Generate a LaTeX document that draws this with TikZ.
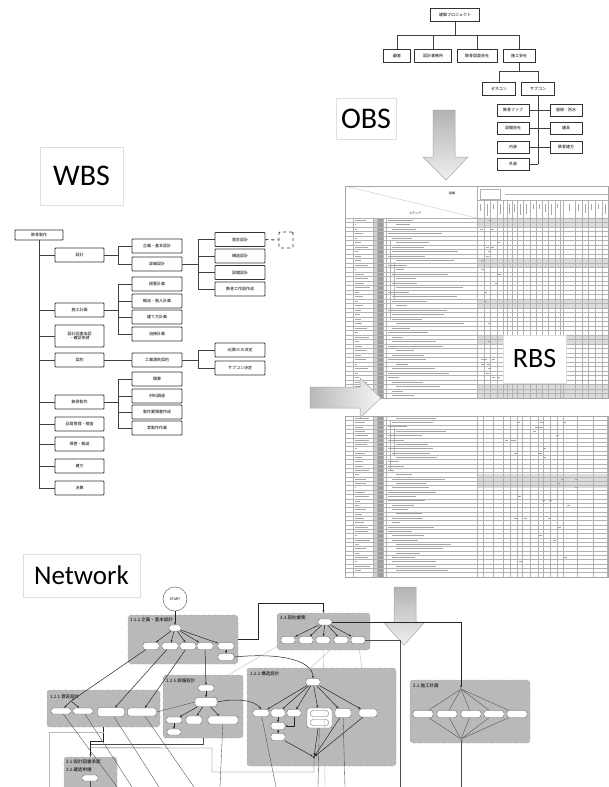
\documentclass[tikz,border=0pt]{standalone}
\usepackage{fontspec}
\setmainfont{Noto Sans CJK JP}
\newfontfamily\titlefont{Carlito}
\usetikzlibrary{arrows.meta, positioning, calc}

\newcommand{\jpsmall}{\fontsize{4}{4.8}\selectfont}
\newcommand{\jptiny}{\fontsize{3}{3.5}\selectfont}

\begin{document}
\begin{tikzpicture}[x=1pt, y=-1pt,
  wbox/.style={draw=black!80, line width=0.9pt, rounded corners=0.8pt, fill=white,
    minimum width=49pt, minimum height=14pt, inner sep=0pt, font=\jpsmall, align=center},
  obox/.style={draw=black!80, line width=0.8pt, fill=white, minimum height=13pt,
    inner sep=1pt, font=\jpsmall},
  tline/.style={draw=black!75, line width=1pt},
  titlebox/.style={draw=gray!25, fill=white, inner sep=0pt, font=\titlefont},
  bigarrow/.style={top color=gray!60, bottom color=gray!12, draw=gray!70, line width=0.5pt},
  grp/.style={draw=gray!75, dashed, line width=0.4pt, fill=gray!55, rounded corners=3pt, inner sep=0pt},
  nd/.style={draw=black!60, fill=white, rounded corners=2.5pt, minimum width=16pt,
    minimum height=7pt, inner sep=0pt, line width=0.4pt},
  joint/.style={circle, fill=black, inner sep=0pt, minimum size=2pt},
  grplabel/.style={font=\fontsize{4.5}{5}\selectfont, anchor=west, inner sep=0pt},
  link/.style={draw=black!85, line width=0.5pt, -{Stealth[length=2.5pt,width=2pt]}},
  thinlink/.style={draw=black!70, line width=0.35pt},
  faint/.style={draw=gray!55, line width=0.35pt},
  rline/.style={draw=gray!60, line width=0.25pt},
  scrib/.style={draw=gray!70, line width=0.9pt},
]
\useasboundingbox (0,0) rectangle (608,787);
\fill[white] (0,0) rectangle (608,787);
\pgfmathsetseed{42}

% ---------- OBS ----------
\node[obox, minimum width=49pt] (proj) at (455,15) {建築プロジェクト};
\node[obox, minimum width=27pt] (kokyaku) at (397,56) {顧客};
\node[obox, minimum width=37pt] (jimusho) at (433,56) {設計事務所};
\node[obox, minimum width=40pt] (zumen) at (477,56) {鉄骨図面会社};
\node[obox, minimum width=32pt] (sekou) at (519,56) {施工会社};
\foreach \c in {kokyaku, jimusho, zumen, sekou}
  \draw[tline] (proj.south) -- ++(0,14) -| (\c.north);

\node[obox, minimum width=33pt] (gene) at (499,89) {ゼネコン};
\node[obox, minimum width=33pt] (sub) at (538,89) {サブコン};
\foreach \c in {gene, sub}
  \draw[tline] (sekou.south) -- ++(0,9) -| (\c.north);

\node[obox, minimum width=32pt, minimum height=12pt] (fab) at (513,110) {鉄骨ファブ};
\node[obox, minimum width=32pt, minimum height=12pt] (setsubi) at (513,128) {設備会社};
\node[obox, minimum width=32pt, minimum height=12pt] (naisou) at (513,147) {内装};
\node[obox, minimum width=32pt, minimum height=12pt] (gaisou) at (513,164) {外装};
\node[obox, minimum width=32pt, minimum height=12pt] (yane) at (566,110) {屋根・防水};
\node[obox, minimum width=32pt, minimum height=12pt] (tategu) at (566,128) {建具};
\node[obox, minimum width=32pt, minimum height=12pt] (tatekata) at (566,147) {鉄骨建方};
\draw[tline] (sub.south) -- (sub.south |- gaisou.east);
\foreach \c in {fab, setsubi, naisou, gaisou}
  \draw[tline] (\c.east) -- (\c.east -| sub.south);
\foreach \c in {yane, tategu, tatekata}
  \draw[tline] (\c.west) -- (\c.west -| sub.south);

\node[titlebox, minimum width=60pt, minimum height=41pt] (obs) at (366,118.5) {\fontsize{30}{32}\selectfont OBS};
\shade[bigarrow] (433,110) -- (455,110) -- (455,157) -- (468,157) -- (446,180) -- (423,157) -- (433,157) -- cycle;

% ---------- WBS ----------
\node[titlebox, minimum width=83pt, minimum height=58pt] (wbs) at (81.5,176) {\fontsize{30}{32}\selectfont WBS};

\node[wbox, minimum width=48pt, minimum height=10pt] (root) at (39,235) {鉄骨製作};
\node[wbox] (w1) at (79.5,255) {設計};
\node[wbox] (w2) at (79.5,310) {施工計画};
\node[wbox, minimum height=22pt] (w3) at (79.5,336) {設計図書承認\\・確認申請};
\node[wbox] (w4) at (79.5,360) {契約};
\node[wbox] (w5) at (79.5,402) {鉄骨製作};
\node[wbox] (w6) at (79.5,424) {品質管理・検査};
\node[wbox] (w7) at (79.5,444) {保管・輸送};
\node[wbox] (w8) at (79.5,466) {建方};
\node[wbox] (w9) at (79.5,488) {決算};
\draw[tline] (root.south) -- (root.south |- w9.west);
\foreach \w in {w1,w2,w3,w4,w5,w6,w7,w8,w9}
  \draw[tline] (root.south |- \w.west) -- (\w.west);

\node[wbox, minimum width=50pt] (w11) at (157,246) {企画・基本設計};
\node[wbox, minimum width=50pt] (w12) at (157,264) {詳細設計};
\node[wbox, minimum width=50pt] (w21) at (157,284) {揚重計画};
\node[wbox, minimum width=50pt] (w22) at (157,301) {輸送・搬入計画};
\node[wbox, minimum width=50pt] (w23) at (157,317) {建て方計画};
\node[wbox, minimum width=50pt] (w24) at (157,334) {溶接計画};
\node[wbox, minimum width=50pt] (w41) at (157,360) {工事請負契約};
\node[wbox, minimum width=50pt] (w51) at (157,379) {積算};
\node[wbox, minimum width=50pt] (w52) at (157,396) {材料調達};
\node[wbox, minimum width=50pt] (w53) at (157,412) {製作要領書作成};
\node[wbox, minimum width=50pt] (w54) at (157,428) {実製作作業};
\foreach \c in {w11,w12}
  \draw[tline] (w1.east) -- ++(14,0) |- (\c.west);
\foreach \c in {w21,w22,w23,w24}
  \draw[tline] (w2.east) -- ++(14,0) |- (\c.west);
\draw[tline] (w4.east) -- (w41.west);
\foreach \c in {w51,w52,w53,w54}
  \draw[tline] (w5.east) -- ++(14,0) |- (\c.west);

\node[wbox, minimum width=50pt] (w121) at (240,239.5) {意匠設計};
\node[wbox, minimum width=50pt] (w122) at (240,256) {構造設計};
\node[wbox, minimum width=50pt] (w123) at (240,272.5) {設備設計};
\node[wbox, minimum width=50pt] (w124) at (240,289) {鉄骨工作図作成};
\node[wbox, minimum width=50pt] (w411) at (240,350) {元請GCの決定};
\node[wbox, minimum width=50pt] (w412) at (240,368) {サブコン決定};
\foreach \c in {w121,w122,w123,w124}
  \draw[tline] (w12.east) -- ++(16,0) |- (\c.west);
\foreach \c in {w411,w412}
  \draw[tline] (w41.east) -- ++(16,0) |- (\c.west);

\node[draw=black!80, dashed, line width=0.8pt, rounded corners=1pt,
  minimum width=14pt, minimum height=16pt] (tbd) at (286,240) {};
\draw[tline, dashed] (w121.east) -- (tbd.west);

% ---------- RBS matrix, upper half ----------
\fill[gray!28] (477,218) rectangle (608,227);
\fill[gray!28] (477,258.5) rectangle (608,267.5);
\fill[gray!28] (477,299) rectangle (608,308);
\fill[gray!28] (477,335) rectangle (608,344);
\fill[gray!28] (477,384.5) rectangle (608,398);
\fill[gray!35] (373,218) rectangle (377,398);
\fill[gray!75] (377,218) rectangle (383,398);
\foreach \r in {0,...,40}
  \draw[rline] (345,218+4.5*\r) -- (608,218+4.5*\r);
\foreach \x in {353,373,377,383,386,477,484,490,497,503,507,512,517,523,530,536,542,548,555,560,563,575,582,588,595,602}
  \draw[rline] (\x,218) -- (\x,398);
\draw[rline] (390,240) -- (390,320);
\draw[rline] (394,262) -- (394,300);
\foreach \x in {484,490,497,503,507,512,517,523,530,536,542,548,555,560,563,575,582,588,595,602}
  \draw[rline] (\x,200) -- (\x,218);
\draw[rline] (477,200) -- (608,200);
\draw[rline] (480,189) rectangle (500,199);
\draw[rline] (505,194) -- (608,194);
\foreach \x in {480.5,487,493.5,500,509.5,514.5,520,526.5,533,539,545,551.5,557.5,569,578.5,585,591.5,598.5,605}
  \draw[draw=gray!70, line width=1pt] (\x,204) -- (\x,204+4+8*rnd);
\draw[draw=gray!70, line width=0.5pt] (345,186) rectangle (608,398);
\draw[rline] (345,186) -- (477,218);
\draw[rline] (477,186) -- (477,218);
\node[font=\jptiny, inner sep=0pt] (soshiki) at (452,193) {組織};
\node[font=\jptiny, inner sep=0pt] (step) at (415,213) {ステップ};
\foreach \r in {0,...,39}{
  \pgfmathsetmacro{\yy}{220.25+4.5*\r}
  \pgfmathsetmacro{\xs}{388+4*int(3*rnd)}
  \pgfmathsetmacro{\xe}{\xs+6+62*rnd}
  \pgfmathsetmacro{\xn}{356+14*rnd}
  \draw[scrib] (\xs,\yy) -- (\xe,\yy);
  \draw[scrib, line width=0.7pt] (355,\yy) -- (\xn,\yy);
}
\foreach \k in {1,...,26}{
  \pgfmathsetmacro{\yy}{220.25+4.5*int(36*rnd)}
  \pgfmathsetmacro{\xx}{478+20*rnd}
  \draw[scrib, line width=0.8pt] (\xx,\yy) -- (\xx+3,\yy);
}

% ---------- RBS matrix, lower half ----------
\fill[gray!28] (477,474.3) rectangle (608,487.7);
\fill[gray!35] (373,416) rectangle (377,577);
\fill[gray!75] (377,416) rectangle (383,577);
\foreach \r in {0,...,36}
  \draw[rline] (345,416+4.35*\r) -- (608,416+4.35*\r);
\foreach \x in {353,373,377,383,386,477,483,493,503,510,517,522,530,538,543,550,557,563,577,593,607}
  \draw[rline] (\x,416) -- (\x,577);
\draw[rline] (390,420) -- (390,470);
\draw[rline] (394,428) -- (394,455);
\draw[draw=gray!70, line width=0.5pt] (345,416) rectangle (608,577);
\foreach \r in {0,...,35}{
  \pgfmathsetmacro{\yy}{418.2+4.35*\r}
  \pgfmathsetmacro{\xs}{388+4*int(3*rnd)}
  \pgfmathsetmacro{\xe}{\xs+6+50*rnd}
  \pgfmathsetmacro{\xn}{356+14*rnd}
  \draw[scrib] (\xs,\yy) -- (\xe,\yy);
  \draw[scrib, line width=0.7pt] (355,\yy) -- (\xn,\yy);
}
\foreach \k in {1,...,30}{
  \pgfmathsetmacro{\yy}{418.2+4.35*int(35*rnd)}
  \pgfmathsetmacro{\xx}{500+80*rnd}
  \draw[scrib, line width=0.8pt] (\xx,\yy) -- (\xx+3,\yy);
}

\node[titlebox, minimum width=63pt, minimum height=48pt] (rbs) at (534.5,359) {\fontsize{28}{30}\selectfont RBS};
\shade[left color=gray!55, right color=gray!8, draw=gray!70, line width=0.5pt]
  (310,387) -- (360,387) -- (360,378) -- (381,398) -- (360,418) -- (360,408) -- (310,408) -- cycle;
\shade[bigarrow] (394,587) -- (416,587) -- (416,622) -- (425,622) -- (404,645) -- (383,622) -- (394,622) -- cycle;

% ---------- Network ----------
\node[titlebox, minimum width=117pt, minimum height=43pt] (net) at (81.5,575.5) {\fontsize{27}{29}\selectfont Network};

\node[grp, minimum width=110pt, minimum height=49pt] (g112) at (183,639.5) {};
\node[grp, minimum width=93pt, minimum height=37pt] (g33) at (323.5,631.5) {};
\node[grp, minimum width=113pt, minimum height=37pt] (g121) at (103.5,708.5) {};
\node[grp, minimum width=80pt, minimum height=63pt] (g125) at (203,706.5) {};
\node[grp, minimum width=149pt, minimum height=98pt] (g122) at (321.5,717) {};
\node[grp, minimum width=120pt, minimum height=63pt] (g21) at (470,711.5) {};
\node[grp, minimum width=53pt, minimum height=38pt] (g31) at (90.5,776) {};
\node[grplabel] (l112) at (130,620) {1.1.2.企画・基本設計};
\node[grplabel] (l33) at (280,618) {3.3.契約業務};
\node[grplabel] (l121) at (50,697) {1.2.1.意匠設計};
\node[grplabel] (l125) at (166,681) {1.2.5.設備設計};
\node[grplabel] (l122) at (250,674) {1.2.2.構造設計};
\node[grplabel] (l21) at (413,686) {2.1.施工計画};
\node[grplabel] (l31) at (66,762) {3.1.設計図書承認};
\node[grplabel] (l32) at (66,770) {3.2.確認申請};

\node[draw=black!70, fill=white, circle, minimum size=24pt, inner sep=0pt,
  font=\fontsize{3.5}{4}\selectfont] (start) at (175,599) {START};

\node[nd, minimum width=12pt, minimum height=6pt] (a0) at (175,628) {};
\foreach \n/\x in {a1/151, a2/170, a3/188, a4/205, a5/226}
  \node[nd] (\n) at (\x,646) {};
\node[nd] (a6) at (226,657) {};

\node[nd, minimum width=14pt, minimum height=6pt] (b0) at (325,622) {};
\foreach \n/\x in {b1/288, b2/306, b3/323, b4/341, b5/358}
  \node[nd, minimum width=14pt] (\n) at (\x,640) {};

\node[joint, minimum size=1.5pt] (c0) at (71,701) {};
\node[nd, minimum width=20pt, minimum height=6pt] (c1) at (61,711) {};
\node[nd, minimum width=20pt, minimum height=6pt] (c2) at (83,711) {};
\node[nd, minimum width=27pt, minimum height=9pt] (c3) at (111,712) {};
\node[nd, minimum width=29pt, minimum height=8pt] (c4) at (142,712) {};

\node[nd, minimum height=6pt] (d1) at (206,688) {};
\node[nd, minimum width=22pt, minimum height=9pt] (d2) at (206,702) {};
\node[nd, minimum height=6pt] (d3) at (174,720) {};
\node[nd, minimum height=8pt] (d4) at (194,720) {};
\node[nd, minimum width=30pt, minimum height=8pt] (d5) at (223,720) {};
\node[nd, minimum width=14pt, minimum height=6pt] (d6) at (174,732) {};

\node[nd, minimum width=14pt] (e0) at (313,682) {};
\node[nd] (e1) at (261,713) {};
\node[nd, minimum width=14pt, minimum height=8pt] (e2) at (278,713) {};
\node[nd, minimum width=14pt] (e3) at (294,713) {};
\node[nd, minimum width=25pt, minimum height=20pt] (ebox) at (319.5,718) {};
\node[nd, minimum width=18pt, minimum height=6pt] (e4a) at (319.5,713.5) {};
\node[nd, minimum width=18pt, minimum height=6pt] (e4b) at (319.5,722.5) {};
\node[nd, minimum height=9pt] (e5) at (343,713) {};
\node[nd, minimum width=18pt, minimum height=8pt] (e6) at (368,713) {};
\node[nd, minimum width=14pt] (e7) at (278,726) {};
\node[nd, minimum width=14pt] (e8) at (278,737) {};
\node[joint] (em) at (314,757) {};

\node[joint, fill=white, draw=black!70, line width=0.3pt] (f0) at (461,689) {};
\foreach \n/\x in {f1/423, f2/447, f3/471, f4/494, f5/517}
  \node[nd, minimum width=20pt] (\n) at (\x,714) {};
\node[joint, fill=white, draw=black!70, line width=0.3pt] (f6) at (461,739) {};

\node[nd, minimum height=6pt] (g1) at (90,778) {};

\coordinate (z0) at (49,787);
\coordinate (z1) at (117,787);
\coordinate (z2) at (132,787);
\coordinate (z3) at (159,787);
\coordinate (z4) at (194,787);
\coordinate (z5) at (220,787);
\coordinate (z6) at (276,787);
\coordinate (z7) at (318,787);
\coordinate (z8) at (345,787);
\coordinate (z9) at (325,787);
\coordinate (z10) at (461,787);
\coordinate (z11) at (400,787);

% links
\draw[link] (start) -- (a0);
\foreach \n in {a1,a2,a3,a4,a5}
  \draw[link] (a0) -- (\n);
\draw[link] (a5) -- (a6);
\draw[link] (g112.east) -- ++(20,0) |- ($(g33.north)+(0,-10)$) -- (g33.north);
\foreach \n in {b1,b2,b3,b4,b5}
  \draw[link] (b0) -- (\n);
\draw[link] (b0.east) -| (f0);
\draw[thinlink] (b5.east) -| (z11);
\draw[link] (a1) -- (c0);
\draw[link] (a2) -- (c3);
\draw[link] (a3) -- (c4);
\draw[link] (a4) -- (d1);
\draw[link] (a6.east) .. controls (285,652) and (313,662) .. (e0.north);
\draw[faint] (b1) -- (d1);
\draw[faint] (b4) -- (e1);
\draw[faint] (b5) -- (e6);
\draw[faint] (b3) -- (z9);
\draw[link] (c0) -- (c1);
\draw[link] (c0) -- (c2);
\draw[link] (d1) -- (d2);
\foreach \n in {d3,d4,d5}
  \draw[link] (d2) -- (\n);
\draw[link] (d3) -- (d6);
\draw[thinlink] (c4.east) -- (d2.west);
\draw[link] (d2.east) .. controls (235,698) and (255,700) .. (e1.north);
\foreach \n in {e1,e2,e3,ebox,e5,e6}
  \draw[link] (e0) -- (\n);
\draw[link] (e2) -- (e7);
\draw[link] (e3.south) |- (e7.east);
\draw[link] (e7) -- (e8);
\foreach \n in {e8,ebox,e5,e6}
  \draw[link] (\n) -- (em);
\foreach \n in {f1,f2,f3,f4,f5}{
  \draw[thinlink] (f0) -- (\n);
  \draw[thinlink] (\n) -- (f6);
}
\draw[thinlink] (f6) -- (z10);
\draw[link] (g121.south) -- ++(0,14) -| (g31.north);
\draw[thinlink] (g125.south) |- ($(g31.north)+(0,-13)$);
\draw[thinlink] (em) -- ++(0,15) -| (212,748) -- ($(g31.north)+(0,-9)$);
\draw[faint] (z0) |- ($(g121.south)+(0,5)$);
\draw[thinlink] (c1) -- (z1);
\draw[thinlink] (c2) -- (z2);
\draw[thinlink] (c3) -- (z3);
\draw[thinlink] (c4) -- (z4);
\draw[thinlink] (d5) -- (z5);
\draw[thinlink] (e1) -- (z6);
\draw[thinlink] (ebox) -- (z7);
\draw[thinlink] (e5) -- (z8);
\draw[thinlink] (g1) -- (g1 |- z0);
\end{tikzpicture}
\end{document}
